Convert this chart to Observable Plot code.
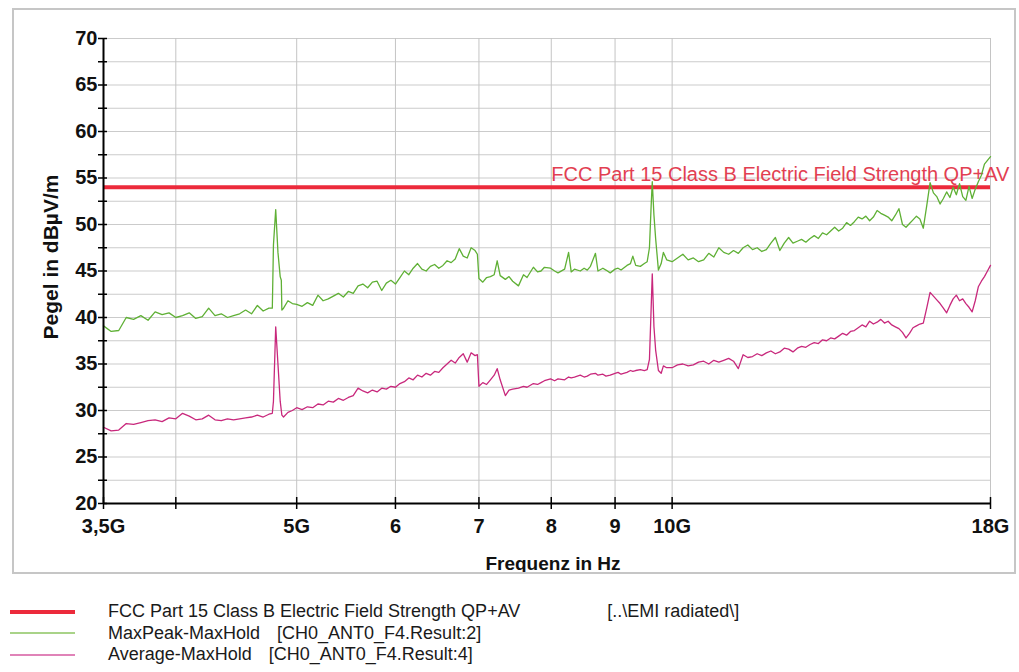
<!DOCTYPE html>
<html><head><meta charset="utf-8">
<script src="https://cdn.jsdelivr.net/npm/d3@7"></script>
<script src="https://cdn.jsdelivr.net/npm/@observablehq/plot@0.6"></script>
<style>
body{margin:0;background:#fff;font-family:"Liberation Sans",Arial,sans-serif;}
#wrap{position:relative;width:1019px;height:672px;overflow:hidden;background:#fff;}
#chart{position:absolute;left:0;top:0;}
#frame{position:absolute;left:12px;top:8px;width:1004px;height:566px;border:2px solid #c6c6c6;box-sizing:border-box;pointer-events:none;}
#legend{position:absolute;left:0;top:601px;font-size:18px;color:#1a1a1a;}
.row{height:21.5px;display:flex;align-items:center;white-space:pre;}
.row svg{margin-left:10px;margin-right:33px;}
</style></head><body>
<div id="wrap"><div id="chart"></div><div id="frame"></div><div id="legend"></div></div>
<script>
// ---- data ----
const freqGHz = [
  3.50,3.55,3.60,3.65,3.70,3.75,3.80,3.85,3.90,3.95,4.00,4.05,4.10,4.15,4.20,4.25,4.30,4.35,4.40,4.45,4.50,4.55,4.60,4.65,4.70,4.75,
  4.78,4.79,4.81,4.83,4.85,4.86,4.865,4.88,4.92,4.96,
  5.00,5.05,5.10,5.15,5.20,5.25,5.30,5.35,5.40,5.45,5.50,5.55,5.60,5.65,5.70,5.75,5.80,5.85,5.90,5.95,
  6.00,6.05,6.10,6.15,6.20,6.25,6.30,6.35,6.40,6.45,6.50,6.55,6.60,6.65,6.70,6.75,6.80,6.85,6.90,6.95,6.98,
  7.00,7.05,7.10,7.15,7.20,7.24,7.28,7.35,7.40,7.45,7.53,7.60,7.65,7.74,7.80,7.85,7.90,7.99,8.05,8.10,
  8.20,8.26,8.30,8.35,8.44,8.50,8.55,8.60,8.68,8.72,8.80,8.85,8.92,9.00,9.05,9.10,9.20,9.26,9.30,9.35,
  9.43,9.50,9.55,9.59,9.62,9.64,9.67,9.70,9.75,9.80,9.84,9.90,
  10.0,10.1,10.2,10.3,10.4,10.5,10.6,10.7,10.8,10.9,11.0,11.1,11.2,11.3,11.4,11.5,11.6,11.7,11.8,11.9,
  12.0,12.1,12.2,12.3,12.4,12.5,12.6,12.7,12.8,12.9,13.0,13.1,13.2,13.3,13.4,13.5,13.6,13.7,13.8,13.9,
  14.0,14.1,14.2,14.3,14.4,14.5,14.6,14.7,14.8,14.9,15.0,15.1,15.2,15.3,15.4,15.5,15.6,15.7,15.8,15.9,
  16.0,16.1,16.2,16.3,16.4,16.5,16.6,16.7,16.8,16.9,17.0,17.1,17.2,17.3,17.4,17.5,17.6,17.7,17.8,17.9,18.0
];
const maxPeak = [
  39.1,38.5,38.6,40.0,39.8,40.2,39.7,40.6,40.3,40.5,40.0,40.2,40.5,39.9,40.1,41.0,40.2,40.4,40.0,40.2,40.4,40.8,40.4,41.3,40.7,41.0,
  41.0,47.8,51.6,47.0,44.4,44.0,40.8,41.0,41.8,41.5,
  41.4,41.2,41.6,41.3,42.4,41.8,42.0,42.3,42.6,42.2,42.8,42.6,43.4,43.6,43.2,43.8,43.9,42.9,43.7,44.0,
  43.6,44.3,45.0,44.6,45.3,45.8,45.2,45.0,45.5,45.7,45.3,45.6,46.1,45.9,46.3,47.4,46.6,46.4,47.5,47.2,46.8,
  44.2,43.8,44.3,44.4,44.6,46.1,44.5,44.1,44.4,43.9,43.4,44.6,44.3,45.4,44.9,45.0,45.4,45.3,45.0,44.8,
  45.2,47.0,44.9,45.2,45.0,45.3,45.1,45.5,46.9,45.0,45.3,45.1,44.8,45.2,45.3,45.1,45.6,45.8,46.6,45.6,
  45.5,45.8,46.0,47.5,52.0,54.6,51.0,48.5,45.1,45.8,47.0,46.2,
  46.0,46.4,46.8,46.2,46.4,46.0,46.2,46.9,46.5,47.5,47.0,46.8,47.2,46.9,47.5,47.8,47.3,47.5,47.1,47.3,
  48.0,48.6,47.2,48.0,48.6,48.0,48.2,48.4,48.1,48.5,48.8,48.5,49.1,48.9,49.3,49.7,49.3,49.6,50.2,49.9,
  50.3,50.8,50.6,50.9,50.4,50.8,51.5,51.2,51.0,50.8,50.4,51.0,51.7,50.0,49.7,50.1,50.5,50.9,50.6,49.6,
  52.0,54.5,53.4,53.0,52.2,52.8,53.5,52.9,54.0,53.2,54.4,53.0,52.6,54.1,52.8,53.8,54.6,55.3,56.5,56.9,57.3
];
const averageHold = [
  28.2,27.8,27.9,28.6,28.5,28.7,28.9,29.0,28.8,29.2,29.1,29.7,29.4,29.0,29.1,29.5,29.0,28.9,29.1,29.0,29.1,29.2,29.3,29.5,29.3,29.6,
  29.7,31.0,39.0,35.0,31.0,30.0,29.5,29.3,29.8,30.0,
  30.3,30.1,30.4,30.3,30.7,30.6,31.0,30.9,31.3,31.1,31.4,31.6,32.4,32.1,31.9,32.2,32.0,32.4,32.3,32.6,
  32.5,32.9,33.1,33.5,33.3,33.8,33.6,34.0,33.8,34.2,34.1,34.6,35.0,35.4,35.1,35.7,36.1,35.2,36.2,35.9,36.0,
  32.6,33.0,32.8,33.3,33.8,34.5,33.3,31.6,32.2,32.3,32.4,32.6,32.5,32.9,32.8,33.0,33.2,33.4,33.2,33.4,
  33.3,33.6,33.5,33.6,33.8,33.6,33.7,33.9,34.0,33.8,33.9,33.7,33.8,34.0,34.1,33.9,34.1,34.3,34.2,34.3,
  34.4,34.3,34.4,35.5,41.0,44.7,39.0,36.5,34.3,34.0,34.8,34.6,
  34.6,34.9,35.0,34.8,34.9,35.2,35.3,35.0,35.4,35.2,35.4,35.6,35.3,34.5,36.0,35.7,35.8,36.1,35.9,36.2,
  36.4,36.1,36.3,36.7,36.6,36.3,36.7,36.9,36.8,37.1,37.3,37.2,37.6,37.5,37.8,37.7,38.0,38.3,38.1,38.5,
  38.6,38.9,39.2,39.0,39.6,39.3,39.5,39.8,39.4,39.6,39.2,39.0,38.8,38.4,37.8,38.3,38.9,39.1,39.3,39.4,
  41.0,42.7,42.3,41.9,41.5,41.0,40.5,41.3,42.0,42.4,41.8,42.0,41.5,41.1,40.6,41.8,43.3,43.9,44.4,45.0,45.6
];
const limitValue = 54;
const limitLabel = "FCC Part 15 Class B Electric Field Strength QP+AV";
const limitLabelAt = 8;
const xTicks = [3.5, 4, 5, 6, 7, 8, 9, 10, 18];
const xTickLabels = ["3,5G", "", "5G", "6", "7", "8", "9", "10G", "18G"];
const xGrid = [4, 5, 6, 7, 8, 9, 10, 18];
const yMajor = [20, 25, 30, 35, 40, 45, 50, 55, 60, 65, 70];
const yMinor = [20, 22.5, 25, 27.5, 30, 32.5, 35, 37.5, 40, 42.5, 45, 47.5, 50, 52.5, 55, 57.5, 60, 62.5, 65, 67.5, 70];
const xTitle = "Frequenz in Hz";
const yTitle = "Pegel in dBµV/m";
const legendNames = [limitLabel, "MaxPeak-MaxHold", "Average-MaxHold"];
const legendSources = ["[..\\EMI radiated\\]", "[CH0_ANT0_F4.Result:2]", "[CH0_ANT0_F4.Result:4]"];

// ---- styles ----
const RED = "#ec2a3b", RED_TEXT = "#e23f52", GREEN = "#5fb035", MAGENTA = "#c8287c";
const legendStyles = [
  {color: RED, width: 4, gap: 87},
  {color: "#8cc460", width: 1.5, gap: 17},
  {color: "#d65aa0", width: 1.5, gap: 17}
];

const table = freqGHz.map((f, i) => ({f, peak: maxPeak[i], avg: averageHold[i]}));

const chart = Plot.plot({
  width: 1019, height: 580,
  marginLeft: 103, marginRight: 29, marginTop: 38, marginBottom: 77,
  style: {background: "transparent", fontFamily: "'Liberation Sans', Arial, sans-serif", color: "#111"},
  x: {type: "log", domain: [3.5, 18]},
  y: {domain: [20, 70]},
  marks: [
    Plot.gridY(yMinor, {stroke: "#cbcbcb", strokeOpacity: 1}),
    Plot.gridX(xGrid, {stroke: "#c4c4c4", strokeOpacity: 1}),
    Plot.ruleY([limitValue], {stroke: RED, strokeWidth: 4}),
    Plot.text([limitLabel], {x: limitLabelAt, y: limitValue, text: d => d, textAnchor: "start", dy: -13, fill: RED_TEXT, fontSize: 20}),
    Plot.line(table, {x: "f", y: "peak", stroke: GREEN, strokeWidth: 1.3}),
    Plot.line(table, {x: "f", y: "avg", stroke: MAGENTA, strokeWidth: 1.3}),
    Plot.ruleX([3.5], {stroke: "#000", strokeWidth: 2}),
    Plot.ruleY([20], {stroke: "#000", strokeWidth: 2}),
    Plot.ruleY(yMinor, {x1: 3.5, x2: 3.5, insetLeft: -5, insetRight: -4, stroke: "#000", strokeWidth: 1.5}),
    Plot.ruleX(xTicks, {y1: 20, y2: 20, insetTop: -6, insetBottom: -6, stroke: "#000", strokeWidth: 1.5}),
    Plot.axisY({ticks: yMajor, tickSize: 0, tickPadding: 6, fontSize: 20, fontWeight: "bold", label: null}),
    Plot.axisX({ticks: xTicks, tickFormat: d => xTickLabels[xTicks.indexOf(d)], tickSize: 0, tickPadding: 15, fontSize: 20, fontWeight: "bold", label: null}),
    Plot.text([yTitle], {text: d => d, frameAnchor: "left", textAnchor: "middle", dx: -52, dy: -14, rotate: -90, fontSize: 21, fontWeight: "bold"}),
    Plot.text([xTitle], {text: d => d, frameAnchor: "bottom", textAnchor: "middle", dx: 6, dy: 66, fontSize: 19, fontWeight: "bold"})
  ]
});
document.getElementById("chart").appendChild(chart);

const legend = document.getElementById("legend");
legendNames.forEach((name, i) => {
  const s = legendStyles[i];
  const row = document.createElement("div");
  row.className = "row";
  row.innerHTML = `<svg width="65" height="8"><line x1="0" x2="65" y1="4" y2="4" stroke="${s.color}" stroke-width="${s.width}"/></svg>` +
    `<span></span><span style="margin-left:${s.gap}px"></span>`;
  row.children[1].textContent = name;
  row.children[2].textContent = legendSources[i];
  legend.appendChild(row);
});
</script>
</body></html>
